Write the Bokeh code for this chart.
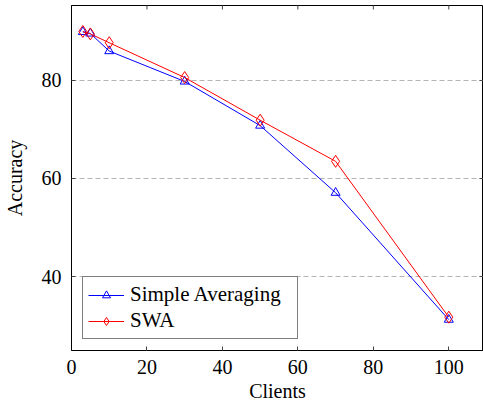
import math
from bokeh.plotting import figure
from bokeh.models import Range1d, FixedTicker, Legend, LegendItem
from bokeh.embed import file_html
from bokeh.resources import INLINE

clients = [3, 5, 10, 30, 50, 70, 100]
simple_avg = [89.9, 89.6, 86.0, 79.8, 70.8, 57.1, 31.2]
swa = [90.0, 89.5, 87.7, 80.6, 71.9, 63.5, 31.7]
x_ticks = [0, 20, 40, 60, 80, 100]
y_ticks = [40, 60, 80]

X0, X1 = 0, 109.2
Y0, Y1 = 24.9, 95.3

FONT = "Liberation Serif"
FS = "20px"

p = figure(width=483, height=405, min_border_left=71, min_border_right=0,
           min_border_top=5, min_border_bottom=55,
           x_range=Range1d(X0, X1), y_range=Range1d(Y0, Y1),
           output_backend="svg", toolbar_location=None)
p.background_fill_color = "white"
p.border_fill_color = "white"
p.outline_line_color = "black"
p.outline_line_width = 1

p.xgrid.visible = False
p.ygrid.ticker = FixedTicker(ticks=y_ticks)
p.ygrid.grid_line_color = "#b4b4b4"
p.ygrid.grid_line_dash = "5 3"
p.ygrid.grid_line_width = 1

for ax in (p.xaxis[0], p.yaxis[0]):
    ax.major_tick_in = 4
    ax.major_tick_out = 0
    ax.minor_tick_line_color = None
    ax.axis_line_color = "black"
    ax.major_tick_line_color = "#444444"
    ax.major_label_text_font = FONT
    ax.major_label_text_font_size = FS
    ax.major_label_text_color = "black"
    ax.axis_label_text_font = FONT
    ax.axis_label_text_font_size = FS
    ax.axis_label_text_font_style = "normal"
    ax.axis_label_text_color = "black"

p.xaxis.ticker = FixedTicker(ticks=x_ticks)
p.yaxis.ticker = FixedTicker(ticks=y_ticks)
p.xaxis.axis_label = "Clients"
p.yaxis.axis_label = "Accuracy"
p.xaxis.major_label_standoff = 9
p.xaxis.axis_label_standoff = 3
p.yaxis.major_label_standoff = 10
p.yaxis.axis_label_standoff = 13

# inward ticks on the top and right edges of the frame
p.scatter(x_ticks, [Y1] * len(x_ticks), marker="dash", size=8, angle=math.pi / 2,
          line_color="#444444", line_width=1)
p.scatter([X1] * len(y_ticks), y_ticks, marker="dash", size=8,
          line_color="#444444", line_width=1)

l1 = p.line(clients, simple_avg, line_color="blue", line_width=1)
s1 = p.scatter(clients, simple_avg, marker="triangle", size=9, fill_color=None,
               line_color="blue", line_width=1)
l2 = p.line(clients, swa, line_color="red", line_width=1)
s2 = p.scatter(clients, swa, marker="diamond", size=12, fill_color=None,
               line_color="red", line_width=1)

legend = Legend(items=[LegendItem(label="Simple Averaging", renderers=[l1, s1]),
                       LegendItem(label="SWA", renderers=[l2, s2])],
                location="bottom_left")
legend.label_text_font = FONT
legend.label_text_font_size = "21px"
legend.label_text_color = "black"
legend.border_line_color = "black"
legend.border_line_width = 1
legend.background_fill_alpha = 1
legend.glyph_width = 36
legend.glyph_height = 20
legend.label_height = 20
legend.label_width = 162
legend.spacing = 1
legend.padding = 5
legend.margin = 11
legend.label_standoff = 6
p.add_layout(legend)

open("out.html", "w").write(file_html(p, INLINE))
